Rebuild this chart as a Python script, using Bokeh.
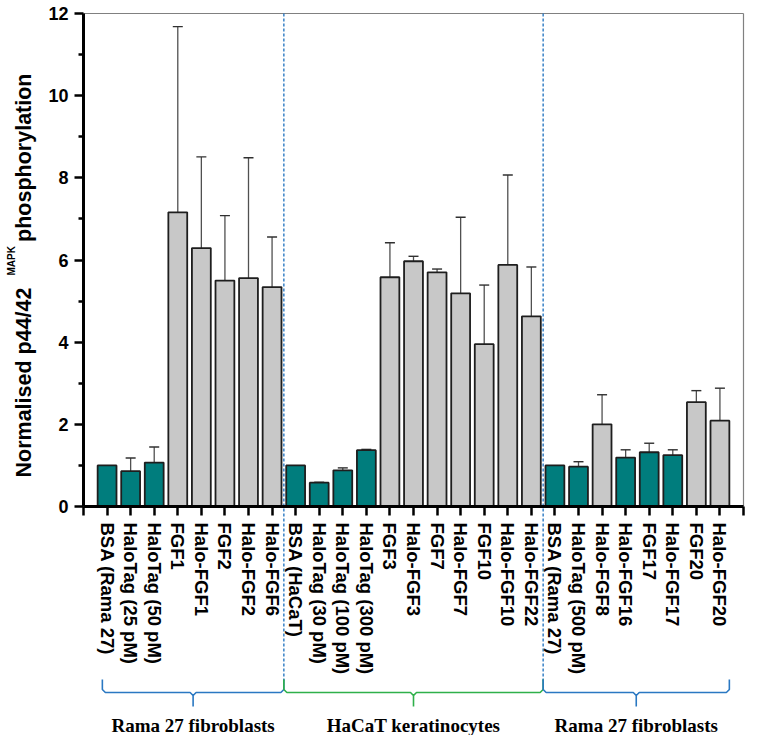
import math
from bokeh.plotting import figure
from bokeh.models import (ColumnDataSource, Range1d, FixedTicker, Whisker, TeeHead, Label)
from bokeh.embed import file_html
from bokeh.resources import INLINE

# ---------------- data ----------------
labels = ["BSA (Rama 27)", "HaloTag (25 pM)", "HaloTag (50 pM)", "FGF1", "Halo-FGF1",
          "FGF2", "Halo-FGF2", "Halo-FGF6",
          "BSA (HaCaT)", "HaloTag (30 pM)", "HaloTag (100 pM)", "HaloTag (300 pM)",
          "FGF3", "Halo-FGF3", "FGF7", "Halo-FGF7", "FGF10", "Halo-FGF10", "Halo-FGF22",
          "BSA (Rama 27)", "HaloTag (500 pM)", "Halo-FGF8", "Halo-FGF16", "FGF17",
          "Halo-FGF17", "FGF20", "Halo-FGF20"]
means = [1.00, 0.86, 1.07, 7.16, 6.29, 5.50, 5.56, 5.34,
         1.00, 0.58, 0.88, 1.37, 5.58, 5.97, 5.70, 5.19, 3.95, 5.88, 4.63,
         1.00, 0.97, 2.00, 1.19, 1.32, 1.25, 2.54, 2.09]
errors = [0.0, 0.32, 0.38, 4.52, 2.22, 1.58, 2.93, 1.22,
          0.0, 0.01, 0.06, 0.02, 0.84, 0.12, 0.08, 1.85, 1.44, 2.19, 1.20,
          0.0, 0.12, 0.72, 0.19, 0.22, 0.13, 0.28, 0.79]
control = [True, True, True, False, False, False, False, False,
           True, True, True, True, False, False, False, False, False, False, False,
           True, True, False, True, True, True, False, False]
groups = ["Rama 27 fibroblasts", "HaCaT keratinocytes", "Rama 27 fibroblasts"]
group_sizes = [8, 11, 8]
y_ticks = [0, 2, 4, 6, 8, 10, 12]
y_minor = [1, 3, 5, 7, 9, 11]
y_max = 12

# ---------------- layout / styles ----------------
TEAL = "#007d7d"
GREY = "#c8c8c8"
BLUE = "#2a78c2"
GREEN = "#2fb04a"
SANS = "Liberation Sans"
SERIF = "Liberation Serif"

n = len(labels)
x_max = n + 1
W, H = 761, 735
X0, Y0 = 83, 506          # pixel position of the data origin
X1, Y1 = 743, 13          # pixel position of (x_max, y_max)
KX = (X1 - X0) / x_max
KY = (Y0 - Y1) / y_max


def dx(px):
    return (px - X0) / KX


def dy(py):
    return (Y0 - py) / KY


xs = list(range(1, n + 1))
colors = [TEAL if c else GREY for c in control]

p = figure(width=W, height=H, x_range=Range1d(dx(0), dx(W)), y_range=Range1d(dy(H), dy(0)),
           output_backend="svg", toolbar_location=None, min_border=0)
p.title.visible = False
p.xgrid.visible = False
p.ygrid.visible = False
p.outline_line_color = None
p.background_fill_color = "white"
p.border_fill_color = "white"

# frame top/right lines
p.segment(x0=[0, x_max], y0=[y_max, 0], x1=[x_max, x_max], y1=[y_max, y_max],
          line_color="#808080", line_width=1.2)

src = ColumnDataSource(dict(x=xs, top=means, color=colors))
p.vbar(x="x", top="top", width=0.8, bottom=0, source=src, fill_color="color",
       line_color="#1e1e1e", line_width=1.8)

ex = [x for x, e in zip(xs, errors) if e > 0]
eu = [m + e for m, e in zip(means, errors) if e > 0]
el = [m - e for m, e in zip(means, errors) if e > 0]
esrc = ColumnDataSource(dict(x=ex, upper=eu, lower=el))
p.add_layout(Whisker(base="x", upper="upper", lower="lower", source=esrc,
                     line_color="#505050", line_width=1.3,
                     upper_head=TeeHead(size=10, line_color="#303030", line_width=1.4),
                     lower_head=TeeHead(size=10, line_color="#303030", line_width=1.4)))

# y axis
ya = p.yaxis[0]
ya.fixed_location = 0
ya.bounds = (0, y_max)
ya.ticker = FixedTicker(ticks=y_ticks, minor_ticks=y_minor)
ya.axis_line_width = 3
ya.axis_line_color = "black"
ya.major_tick_line_width = 2.5
ya.minor_tick_line_width = 2.5
ya.major_tick_out = 9
ya.major_tick_in = 0
ya.minor_tick_out = 5
ya.minor_tick_in = 0
ya.major_label_text_font = SANS
ya.major_label_text_font_style = "bold"
ya.major_label_text_font_size = "18px"
ya.major_label_text_color = "black"
ya.major_label_standoff = 6

# x axis
xa = p.xaxis[0]
xa.fixed_location = 0
xa.bounds = (0, x_max)
xa.ticker = FixedTicker(ticks=list(range(0, x_max + 1)))
overrides = {i + 1: lab for i, lab in enumerate(labels)}
overrides[0] = ""
overrides[x_max] = ""
xa.major_label_overrides = overrides
xa.major_label_orientation = -math.pi / 2
xa.axis_line_width = 3
xa.axis_line_color = "black"
xa.major_tick_line_width = 2.5
xa.major_tick_out = 9
xa.major_tick_in = 0
xa.minor_tick_line_color = None
xa.major_label_text_font = SANS
xa.major_label_text_font_style = "bold"
xa.major_label_text_font_size = "18.5px"
xa.major_label_text_color = "black"
xa.major_label_standoff = 7

# y axis title (three pieces, superscript MAPK)
for txt, px, py, size, align in [("Normalised p44/42", 23, 477, "21.5px", "left"),
                                 ("MAPK", 11, 275, "10px", "left"),
                                 ("phosphorylation", 23, 73, "21.5px", "right")]:
    p.add_layout(Label(x=dx(px), y=dy(py), text=txt,
                       angle=math.pi / 2, text_font=SANS, text_font_style="bold",
                       text_font_size=size, text_align=align,
                       text_baseline="alphabetic", text_color="black"))

# separators and braces below the axis
bounds = []
start = 0.5
for s in group_sizes:
    bounds.append((start, start + s))
    start += s
sep_x = [b[1] for b in bounds[:-1]]
p.segment(x0=sep_x, y0=[y_max] * len(sep_x), x1=sep_x, y1=[dy(680)] * len(sep_x),
          line_color=BLUE, line_width=1.4, line_dash="3 2")

y_end = dy(679)
y_bar = dy(692)
y_tip = dy(706)
r = 3 / KY
cx = 3 / KX
brace_colors = [BLUE, GREEN, BLUE]
bxs, bys, bcols = [], [], []
for gi, ((a, b), col) in enumerate(zip(bounds, brace_colors)):
    left = a + (0.3 if gi == 0 else 0.0)
    right = b - (0.1 if gi == len(bounds) - 1 else 0.0)
    xc = (left + right) / 2
    path = [(left, y_end), (left, y_bar + r), (left + cx, y_bar), (xc - cx, y_bar),
            (xc, y_bar - r), (xc + cx, y_bar), (right - cx, y_bar), (right, y_bar + r),
            (right, y_end)]
    bxs.append([q[0] for q in path])
    bys.append([q[1] for q in path])
    bcols.append(col)
    bxs.append([xc, xc])
    bys.append([y_bar - r, y_tip])
    bcols.append(col)
    p.add_layout(Label(x=xc, y=dy(725), text=groups[gi], text_font=SERIF,
                       text_font_style="bold", text_font_size="19px",
                       text_align="center", text_baseline="alphabetic",
                       text_color="black"))
p.multi_line(xs=bxs, ys=bys, line_color=bcols, line_width=1.6)

open("out.html", "w").write(file_html(p, INLINE))
